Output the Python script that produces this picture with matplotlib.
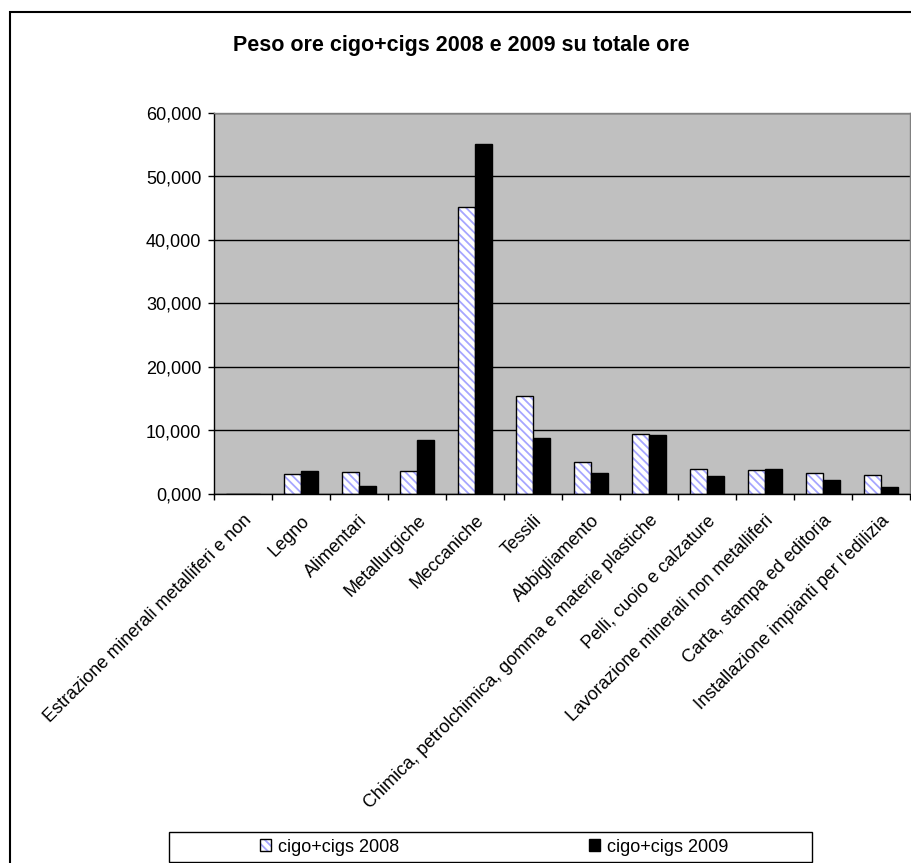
import numpy as np
import matplotlib
matplotlib.use('Agg')
import matplotlib.pyplot as plt
from matplotlib.patches import Patch, Rectangle

plt.rcParams['font.family'] = ['Liberation Sans', 'DejaVu Sans']
plt.rcParams['hatch.color'] = '#a6a6ff'
plt.rcParams['hatch.linewidth'] = 1.3

# dati (percentuali)
settori = [
    'Estrazione minerali metalliferi e non',
    'Legno',
    'Alimentari',
    'Metallurgiche',
    'Meccaniche',
    'Tessili',
    'Abbigliamento',
    'Chimica, petrolchimica, gomma e materie plastiche',
    'Pelli, cuoio e calzature',
    'Lavorazione minerali non metalliferi',
    'Carta, stampa ed editoria',
    "Installazione impianti per l'edilizia",
]
ore_2008 = [0.0, 3.2, 3.4, 3.67, 45.2, 15.5, 5.1, 9.4, 4.0, 3.8, 3.25, 3.05]
ore_2009 = [0.0, 3.67, 1.3, 8.45, 55.07, 8.87, 3.3, 9.24, 2.9, 4.0, 2.15, 1.15]
y_ticks = [0, 10, 20, 30, 40, 50, 60]

W, H = 912, 863
fig = plt.figure(figsize=(W / 100, H / 100), dpi=100)
ax = fig.add_axes([214 / W, 1 - 494 / H, 696 / W, 381 / H])
ax.set_facecolor('#c0c0c0')

x = np.arange(len(settori))
w = 1 / 3.5
hatch = '\\\\\\\\'

# 2008: riempimento tratteggiato + bordo nero
ax.bar(x - w / 2, ore_2008, w, color='white', edgecolor='#a6a6ff',
       hatch=hatch, linewidth=0, zorder=2)
ax.bar(x - w / 2, ore_2008, w, fill=False, edgecolor='black',
       linewidth=1, zorder=3)
# 2009: nero pieno
ax.bar(x + w / 2, ore_2009, w, color='black', edgecolor='black',
       linewidth=1, zorder=3)

ax.set_xlim(-0.5, len(settori) - 0.5)
ax.set_ylim(0, 60)
ax.set_yticks(y_ticks)
ax.set_yticklabels([f'{v:.3f}'.replace('.', ',') for v in y_ticks], fontsize=13)
ax.yaxis.grid(True, color='black', linewidth=1)
ax.set_axisbelow(True)

# tacche tra le categorie, etichette al centro
ax.set_xticks(np.arange(len(settori) + 1) - 0.5)
ax.set_xticklabels([])
ax.set_xticks(x, minor=True)
ax.set_xticklabels(settori, minor=True, rotation=45, ha='right',
                   rotation_mode='anchor', fontsize=13)
ax.tick_params(axis='x', which='minor', length=0, pad=13)
ax.tick_params(axis='both', which='major', direction='out', length=4,
               width=1, color='black', pad=5)

for s in ['left', 'bottom']:
    ax.spines[s].set_color('black')
    ax.spines[s].set_linewidth(1)
for s in ['top', 'right']:
    ax.spines[s].set_color('#808080')
    ax.spines[s].set_linewidth(1)

fig.text(461 / W, 1 - 46 / H, 'Peso ore cigo+cigs 2008 e 2009 su totale ore',
         ha='center', va='center', fontsize=15.5, weight='bold')

# cornice del grafico
fig.patches.append(Rectangle((10 / W, -0.01), 1.1, (H - 12) / H + 0.01,
                             transform=fig.transFigure, fill=False,
                             edgecolor='black', linewidth=1.5))

# legenda
fig.patches.append(Rectangle((169 / W, 1 - 862 / H), 643 / W, 30 / H,
                             transform=fig.transFigure, facecolor='white',
                             edgecolor='black', linewidth=1))
h2008 = (Patch(facecolor='white', edgecolor='#a6a6ff', hatch=hatch, linewidth=0),
         Patch(fill=False, edgecolor='black', linewidth=1))
h2009 = Patch(facecolor='black', edgecolor='black')
fig.legend([h2008, h2009], ['cigo+cigs 2008', 'cigo+cigs 2009'],
           loc='center', bbox_to_anchor=(494 / W, 1 - 847 / H), ncol=2,
           frameon=False, columnspacing=10.5, handlelength=0.6,
           handleheight=0.6, handletextpad=0.4, fontsize=13)

fig.savefig('out.png', dpi=100)
